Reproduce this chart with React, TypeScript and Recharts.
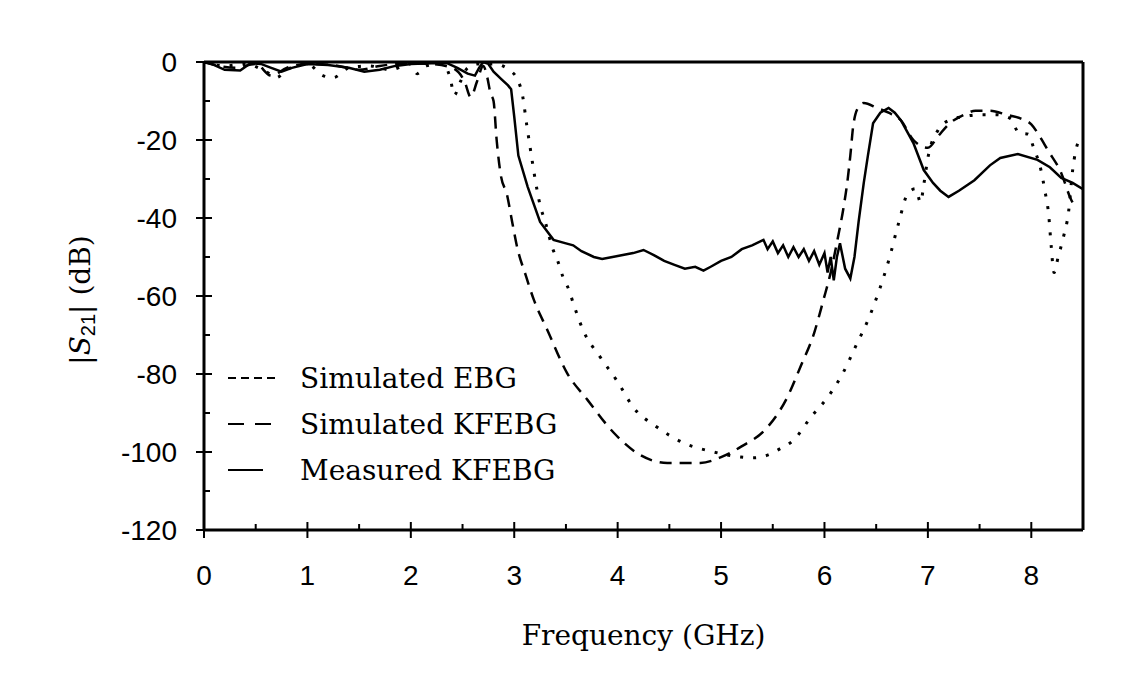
import { LineChart, Line, XAxis, YAxis, ReferenceLine } from 'recharts'

// Simulated EBG (dotted)
const ebgFreq = [0, 0.2, 0.4, 0.6, 0.7, 0.8, 1.0, 1.15, 1.25, 1.4, 1.6, 1.8, 2.0, 2.06, 2.15, 2.3, 2.38, 2.42, 2.48, 2.55, 2.65, 2.8, 2.95, 3.04, 3.08, 3.12, 3.16, 3.2, 3.25, 3.3, 3.37, 3.42, 3.47, 3.53, 3.57, 3.67, 3.83, 4.0, 4.15, 4.38, 4.64, 4.93, 5.19, 5.31, 5.45, 5.58, 5.7, 5.87, 6.03, 6.18, 6.3, 6.43, 6.53, 6.62, 6.72, 6.8, 6.88, 6.93, 6.96, 7.0, 7.1, 7.2, 7.35, 7.5, 7.65, 7.8, 7.88, 7.97, 8.02, 8.1, 8.13, 8.17, 8.19, 8.22, 8.26, 8.31, 8.36, 8.4, 8.45, 8.5]
const ebgDb = [0, -1, -0.5, -2.5, -4, -2, -0.5, -3.5, -4, -1.5, -1, -2, -0.5, -3, -1, -0.5, -4, -8.5, -5, -1.5, -0.5, -0.5, -2, -5, -8.5, -16, -23, -29.7, -36.7, -41, -47.7, -51, -55, -58.5, -61.8, -69, -75.6, -82, -88.5, -93.6, -97.7, -100, -101.3, -101.5, -100.8, -99, -97, -91, -86, -79.7, -73, -65.6, -58.5, -51, -41, -34, -32.5, -36, -31.5, -24.6, -17.4, -15, -14, -13.5, -13.5, -14.5, -18.2, -18.5, -21.8, -28.5, -32.8, -39.7, -46.4, -54, -50, -45, -38.5, -27.7, -20.8, -19]

// Simulated KFEBG (dashed)
const kfFreq = [0, 0.3, 0.5, 0.65, 0.8, 1.0, 1.3, 1.5, 1.7, 2.0, 2.2, 2.4, 2.52, 2.58, 2.64, 2.7, 2.74, 2.77, 2.8, 2.83, 2.87, 2.93, 2.98, 3.03, 3.11, 3.19, 3.32, 3.51, 3.71, 3.96, 4.22, 4.48, 4.8, 5.0, 5.19, 5.45, 5.64, 5.77, 5.9, 5.99, 6.06, 6.13, 6.18, 6.22, 6.25, 6.28, 6.33, 6.38, 6.51, 6.62, 6.74, 6.86, 7.0, 7.1, 7.2, 7.35, 7.46, 7.6, 7.77, 7.9, 8.0, 8.08, 8.16, 8.29, 8.38, 8.42]
const kfDb = [0, -1.5, -0.5, -3.5, -1.5, -0.5, -1, -2, -1, -0.3, -0.5, -1.5, -5, -9, -5, -1, -4, -8, -10, -20, -29, -34, -41, -47.7, -54.6, -61, -68.7, -79.7, -86.7, -95, -100.8, -102.8, -102.8, -101.3, -98.7, -93.6, -86, -78, -69.5, -61, -54, -45, -38, -31, -24, -16, -11.5, -10.5, -11.8, -13, -15, -20, -22, -19, -16, -13.5, -12.5, -12.5, -13.6, -14.5, -16, -19, -22.6, -28.5, -35, -37]

// Measured KFEBG (solid)
const measFreq = [0, 0.1, 0.2, 0.35, 0.45, 0.55, 0.65, 0.75, 0.85, 1.0, 1.2, 1.4, 1.55, 1.7, 1.85, 2.0, 2.2, 2.35, 2.45, 2.55, 2.62, 2.66, 2.7, 2.75, 2.8, 2.88, 2.94, 2.97, 3.0, 3.04, 3.13, 3.25, 3.38, 3.5, 3.57, 3.65, 3.77, 3.85, 3.95, 4.05, 4.15, 4.25, 4.35, 4.45, 4.55, 4.65, 4.75, 4.83, 4.9, 5.0, 5.1, 5.2, 5.3, 5.41, 5.45, 5.5, 5.55, 5.6, 5.65, 5.7, 5.75, 5.8, 5.85, 5.9, 5.95, 6.0, 6.03, 6.06, 6.09, 6.12, 6.15, 6.2, 6.25, 6.29, 6.33, 6.38, 6.42, 6.47, 6.54, 6.62, 6.68, 6.74, 6.86, 6.96, 7.05, 7.12, 7.2, 7.3, 7.45, 7.6, 7.7, 7.87, 8.06, 8.18, 8.29, 8.4, 8.5]
const measDb = [0, -0.8, -2, -2.2, -0.3, -0.5, -1.5, -2.5, -1.5, -0.5, -0.8, -1.5, -2.5, -2, -1, -0.5, -0.3, -0.3, -1.5, -3, -3.5, -1.5, 0, -0.5, -2.5, -4.5, -6, -7, -14, -24, -32, -41, -45.6, -46.5, -47, -48.5, -50, -50.5, -50, -49.5, -49, -48.2, -49.5, -51, -52, -53, -52.5, -53.5, -52.5, -51, -50, -48, -47, -45.6, -48, -46, -49, -47, -50, -47.5, -50, -48, -51, -48.5, -52, -49, -54, -50, -56, -50, -46.5, -53, -55.5, -50, -41, -31, -24, -15.7, -13, -11.8, -13, -15, -20.8, -27.7, -31, -33, -34.6, -33, -30.3, -26.5, -24.6, -23.6, -25.1, -27, -29.7, -31, -32.6]

const xTicks = [0, 0.5, 1, 1.5, 2, 2.5, 3, 3.5, 4, 4.5, 5, 5.5, 6, 6.5, 7, 7.5, 8, 8.5]
const yTicks = [-120, -110, -100, -90, -80, -70, -60, -50, -40, -30, -20, -10, 0]

const legendItems = [
  { name: 'Simulated EBG', dash: '8 5', len: 52 },
  { name: 'Simulated KFEBG', dash: '16 11', len: 45 },
  { name: 'Measured KFEBG', dash: undefined, len: 35 },
]

const toPoints = (fs: number[], ds: number[]) => fs.map((f, i) => ({ f, db: ds[i] }))

const ebg = toPoints(ebgFreq, ebgDb)
const kfebg = toPoints(kfFreq, kfDb)
const measured = toPoints(measFreq, measDb)

const serif = '"DejaVu Serif", "Liberation Serif", serif'
const sans = '"Liberation Sans", Arial, sans-serif'

const XTick = ({ x, y, payload }: any) => {
  const v = payload.value
  const major = Number.isInteger(v)
  return (
    <g>
      <line x1={x} x2={x} y1={y - (major ? 8 : 6)} y2={major ? y + 8 : y} stroke="#000" strokeWidth={2} />
      {major && (
        <text x={x} y={y + 55} textAnchor="middle" fontFamily={sans} fontSize={28} fill="#000">
          {v}
        </text>
      )}
    </g>
  )
}

const YTick = ({ x, y, payload }: any) => {
  const v = payload.value
  const major = v % 20 === 0
  return (
    <g>
      <line x1={major ? x - 8 : x} x2={x + (major ? 8 : 6)} y1={y} y2={y} stroke="#000" strokeWidth={2} />
      {major && (
        <text x={x - 27} y={y + 10} textAnchor="end" fontFamily={sans} fontSize={28} fill="#000">
          {v}
        </text>
      )}
    </g>
  )
}

const YTitle = () => (
  <text
    x={82}
    y={292}
    transform="rotate(-90, 82, 292)"
    textAnchor="middle"
    fontFamily={serif}
    fontSize={28}
    fill="#000"
  >
    |<tspan fontStyle="italic">S</tspan>
    <tspan fontFamily={sans} fontSize={20} dy={5}>21</tspan>
    <tspan dy={-5}>| (dB)</tspan>
  </text>
)

const LegendBox = () => (
  <div style={{ position: 'absolute', left: 220, top: 347, fontFamily: serif, fontSize: 28, color: '#000' }}>
    {legendItems.map((it) => (
      <div key={it.name} style={{ display: 'flex', alignItems: 'center', height: 46 }}>
        <svg width={64} height={10} style={{ marginRight: 8 }}>
          <line x1={0} x2={it.len} y1={5} y2={5} stroke="#000" strokeWidth={2} strokeDasharray={it.dash} />
        </svg>
        <span>{it.name}</span>
      </div>
    ))}
  </div>
)

export default function App() {
  return (
    <div style={{ position: 'relative', width: 1115, height: 680, background: '#fff' }}>
      <LineChart width={1115} height={680} margin={{ top: 54, right: 40, left: 76, bottom: 38 }}>
        <XAxis
          dataKey="f"
          type="number"
          domain={[0, 8.5]}
          ticks={xTicks}
          interval={0}
          allowDataOverflow
          height={120}
          tickSize={0}
          tickMargin={0}
          tickLine={false}
          axisLine={{ stroke: '#000', strokeWidth: 3 }}
          tick={(p: any) => <XTick {...p} />}
          label={{
            value: 'Frequency (GHz)',
            position: 'insideBottom',
            offset: 5,
            style: { fontFamily: serif, fontSize: 28, fill: '#000' },
          }}
        />
        <YAxis
          dataKey="db"
          type="number"
          domain={[-120, 0]}
          ticks={yTicks}
          interval={0}
          allowDataOverflow
          width={120}
          tickSize={0}
          tickMargin={0}
          tickLine={false}
          axisLine={{ stroke: '#000', strokeWidth: 3 }}
          tick={(p: any) => <YTick {...p} />}
          label={{ content: () => <YTitle /> }}
        />
        <ReferenceLine y={0} stroke="#000" strokeWidth={3} />
        <ReferenceLine x={8.5} stroke="#000" strokeWidth={3} />
        <Line
          data={ebg}
          dataKey="db"
          name="Simulated EBG"
          type="monotone"
          stroke="#000"
          strokeWidth={3}
          strokeDasharray="3 10"
          dot={false}
          isAnimationActive={false}
        />
        <Line
          data={kfebg}
          dataKey="db"
          name="Simulated KFEBG"
          type="monotone"
          stroke="#000"
          strokeWidth={2.5}
          strokeDasharray="12 8"
          dot={false}
          isAnimationActive={false}
        />
        <Line
          data={measured}
          dataKey="db"
          name="Measured KFEBG"
          type="linear"
          stroke="#000"
          strokeWidth={2.5}
          dot={false}
          isAnimationActive={false}
        />
      </LineChart>
      <LegendBox />
    </div>
  )
}
